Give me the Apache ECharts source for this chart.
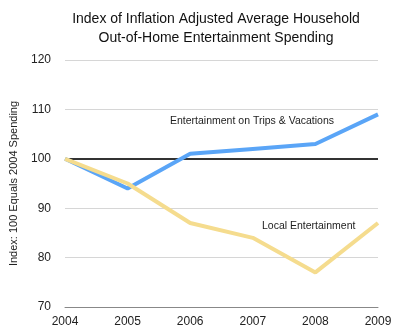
<!DOCTYPE html>
<html><head><meta charset="utf-8">
<script src="https://cdn.jsdelivr.net/npm/echarts@6/dist/echarts.min.js"></script>
<style>html,body{margin:0;padding:0;background:#fff}#c{width:399px;height:336px}</style>
</head><body><div id="c"></div>
<script>
const years = ['2004','2005','2006','2007','2008','2009'];
const trips = [100, 94, 101, 102, 103, 109];
const local = [100, 95, 87, 84, 77, 87];
const yTicks = {min: 70, max: 120, interval: 10};
const tripsName = 'Entertainment on Trips & Vacations';
const localName = 'Local Entertainment';
const FONT = '"Liberation Sans", Arial, Helvetica, sans-serif';
const chart = echarts.init(document.getElementById('c'));
chart.setOption({
  animation: false,
  backgroundColor: '#fff',
  title: {
    text: 'Index of Inflation Adjusted Average Household\nOut-of-Home Entertainment Spending',
    left: 211, top: 5, textAlign: 'center',
    textStyle: {fontFamily: FONT, fontSize: 14, fontWeight: 'normal', color: '#111', lineHeight: 19}
  },
  grid: {left: 64, right: 21, top: 60, bottom: 29, containLabel: false},
  xAxis: {
    type: 'category', data: years, boundaryGap: false,
    axisLine: {lineStyle: {color: '#888', width: 1}},
    axisTick: {show: false},
    axisLabel: {fontFamily: FONT, fontSize: 12, color: '#222', margin: 9},
    splitLine: {show: false}
  },
  yAxis: {
    type: 'value', min: yTicks.min, max: yTicks.max, interval: yTicks.interval,
    name: 'Index: 100 Equals 2004 Spending', nameLocation: 'middle', nameGap: 46,
    nameTextStyle: {fontFamily: FONT, fontSize: 11, color: '#222'},
    axisLine: {show: false}, axisTick: {show: false},
    axisLabel: {fontFamily: FONT, fontSize: 12, color: '#222', margin: 14},
    splitLine: {lineStyle: {color: '#d6d6d6', width: 1}}
  },
  series: [
    {
      name: tripsName, type: 'line', data: trips, symbol: 'none',
      lineStyle: {color: '#5aa5f7', width: 4}, z: 3,
      markLine: {
        silent: true, symbol: 'none', label: {show: false},
        lineStyle: {color: '#333', width: 2, type: 'solid'},
        data: [{yAxis: 100}], z: 1
      }
    },
    {
      name: localName, type: 'line', data: local, symbol: 'none',
      lineStyle: {color: '#f5dc8e', width: 4}, z: 4
    }
  ],
  graphic: [
    {type: 'text', left: 170, top: 116, style: {text: tripsName, font: '10.5px ' + FONT, fill: '#222'}},
    {type: 'text', left: 262, top: 221, style: {text: localName, font: '10.5px ' + FONT, fill: '#222'}}
  ]
});
</script></body></html>
